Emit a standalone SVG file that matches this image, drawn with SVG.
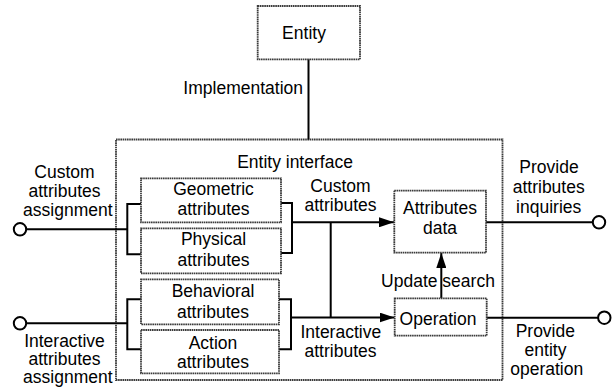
<svg xmlns="http://www.w3.org/2000/svg" width="614" height="387" viewBox="0 0 614 387">
<style>
.box{fill:#fff;stroke:#3a3a3a;stroke-width:1.8;stroke-dasharray:1.6 0.6}
.line{fill:none;stroke:#000;stroke-width:2}
.t{font-family:"Liberation Sans",Arial,sans-serif;font-size:17.5px;fill:#000;text-anchor:middle}
.port{fill:#fff;stroke:#000;stroke-width:2}
</style>
<defs>
<marker id="arr" viewBox="0 0 15 10" refX="15" refY="5" markerWidth="15" markerHeight="10" markerUnits="userSpaceOnUse" orient="auto">
<path d="M0,0 L15,5 L0,10 z" fill="#000"/>
</marker>
</defs>
<rect width="614" height="387" fill="#fff"/>

<g id="entity-interface">
<rect class="box" x="116" y="139.5" width="386.5" height="240.5"/>
<text class="t" x="295" y="167.5">Entity interface</text>
</g>

<g id="connectors">
<line class="line" x1="308.5" y1="59" x2="308.5" y2="139.5"/>
<line class="line" x1="26.5" y1="229.3" x2="127.3" y2="229.3"/>
<polyline class="line" points="141,204 127.3,204 127.3,254.3 141,254.3"/>
<line class="line" x1="26.5" y1="323.3" x2="127.3" y2="323.3"/>
<polyline class="line" points="141,299.3 127.3,299.3 127.3,349.3 141,349.3"/>
<polyline class="line" points="281,203 292,203 292,253 281,253"/>
<polyline class="line" points="279,299.3 291,299.3 291,349.3 279,349.3"/>
<line class="line" x1="292" y1="222.3" x2="394" y2="222.3" marker-end="url(#arr)"/>
<line class="line" x1="291" y1="317.5" x2="394.5" y2="317.5" marker-end="url(#arr)"/>
<line class="line" x1="330.7" y1="222.3" x2="330.7" y2="317.5"/>
<line class="line" x1="441.3" y1="298.3" x2="441.3" y2="253" marker-end="url(#arr)"/>
<line class="line" x1="486" y1="222.3" x2="592.8" y2="222.3"/>
<line class="line" x1="486.7" y1="317.7" x2="598.2" y2="317.7"/>
<circle class="port" cx="20" cy="229.3" r="6.2"/>
<circle class="port" cx="20" cy="323.3" r="6.2"/>
<circle class="port" cx="599" cy="222.3" r="6.2"/>
<circle class="port" cx="604.3" cy="317.7" r="6.2"/>
</g>

<g id="entity">
<rect class="box" x="257.7" y="6" width="102.3" height="53.3"/>
<text class="t" x="304" y="38.5">Entity</text>
</g>
<text class="t" x="303" y="94.3" style="text-anchor:end">Implementation</text>

<g id="geometric">
<rect class="box" x="141" y="178.3" width="140" height="44"/>
<text class="t" x="213.5" y="195">Geometric</text>
<text class="t" x="213.5" y="215">attributes</text>
</g>
<g id="physical">
<rect class="box" x="141" y="228.3" width="140" height="45"/>
<text class="t" x="213.5" y="245">Physical</text>
<text class="t" x="213.5" y="266">attributes</text>
</g>
<g id="behavioral">
<rect class="box" x="141" y="279.3" width="138" height="45"/>
<text class="t" x="213" y="296.7">Behavioral</text>
<text class="t" x="213" y="318.3">attributes</text>
</g>
<g id="action">
<rect class="box" x="141" y="330" width="138" height="43.3"/>
<text class="t" x="213" y="349.3">Action</text>
<text class="t" x="213" y="368.3">attributes</text>
</g>
<g id="attributes-data">
<rect class="box" x="394.3" y="190.7" width="91.7" height="62"/>
<text class="t" x="440" y="214">Attributes</text>
<text class="t" x="440" y="234">data</text>
</g>
<g id="operation">
<rect class="box" x="394.7" y="298.3" width="92" height="37.4"/>
<text class="t" x="438" y="325">Operation</text>
</g>

<g id="labels">
<text class="t" x="64.5" y="177.7">Custom</text>
<text class="t" x="64.5" y="196.7">attributes</text>
<text class="t" x="67.8" y="216">assignment</text>
<text class="t" x="64.5" y="346.7">Interactive</text>
<text class="t" x="64.5" y="365">attributes</text>
<text class="t" x="67.8" y="383.3">assignment</text>
<text class="t" x="340.5" y="191.7">Custom</text>
<text class="t" x="340.5" y="210.7">attributes</text>
<text class="t" x="340.8" y="338.3">Interactive</text>
<text class="t" x="340.5" y="357.3">attributes</text>
<text class="t" x="438" y="286.7">Update search</text>
<text class="t" x="549" y="172.7">Provide</text>
<text class="t" x="548.7" y="193.3">attributes</text>
<text class="t" x="548.7" y="212.7">inquiries</text>
<text class="t" x="545.3" y="337.3">Provide</text>
<text class="t" x="545.5" y="355.8">entity</text>
<text class="t" x="546.7" y="374.5">operation</text>
</g>
</svg>
